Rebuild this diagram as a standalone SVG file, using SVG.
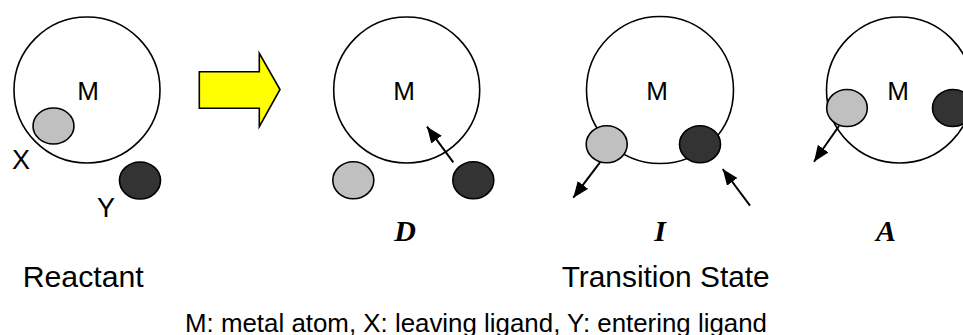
<svg xmlns="http://www.w3.org/2000/svg" width="963" height="335" viewBox="0 0 963 335">
  <style>
    .metal { fill: #ffffff; stroke: #000000; stroke-width: 1.6; }
    .leaving { fill: #c0c0c0; stroke: #000000; stroke-width: 1.6; }
    .entering { fill: #333333; stroke: #000000; stroke-width: 1.6; }
    .sans { font-family: "Liberation Sans", Arial, sans-serif; fill: #000000; }
    .mech { font-family: "Liberation Serif", "Times New Roman", serif; font-style: italic; font-weight: bold; font-size: 30px; fill: #000000; }
    .move { stroke: #000000; stroke-width: 2; fill: none; marker-end: url(#head); }
  </style>
  <defs>
    <marker id="head" markerUnits="userSpaceOnUse" markerWidth="16" markerHeight="13" refX="16" refY="6.5" orient="auto">
      <path d="M0,0 L16,6.5 L0,13 Z" fill="#000000"/>
    </marker>
  </defs>
  <rect width="963" height="335" fill="#ffffff"/>

  <!-- Reactant -->
  <g id="reactant">
    <circle class="metal" cx="87" cy="90" r="73"/>
    <text class="sans" x="88" y="99.5" font-size="26" text-anchor="middle">M</text>
    <ellipse class="leaving" cx="53.5" cy="126" rx="20.5" ry="18"/>
    <ellipse class="entering" cx="140" cy="180.5" rx="20.5" ry="18.5"/>
    <text class="sans" x="21" y="168.5" font-size="27" text-anchor="middle">X</text>
    <text class="sans" x="106" y="217" font-size="27" text-anchor="middle">Y</text>
  </g>

  <!-- Reaction arrow -->
  <g id="reaction-arrow">
    <polygon points="199.3,71.7 259.3,71.7 259.3,53.3 280,89.5 259.3,126.7 259.3,108.3 199.3,108.3" fill="#ffff00" stroke="#000000" stroke-width="1.6"/>
  </g>

  <!-- Dissociative -->
  <g id="dissociative">
    <circle class="metal" cx="406.7" cy="90" r="73"/>
    <text class="sans" x="404" y="99.5" font-size="26" text-anchor="middle">M</text>
    <ellipse class="leaving" cx="353.3" cy="180.3" rx="20.5" ry="18.5"/>
    <ellipse class="entering" cx="473.3" cy="180.3" rx="20.5" ry="18.5"/>
    <text class="mech" x="405" y="241" text-anchor="middle">D</text>
  </g>

  <!-- Interchange -->
  <g id="interchange">
    <circle class="metal" cx="660" cy="90" r="73.5"/>
    <text class="sans" x="657" y="99.5" font-size="26" text-anchor="middle">M</text>
    <ellipse class="leaving" cx="606.7" cy="144.2" rx="20.5" ry="18.5"/>
    <ellipse class="entering" cx="700" cy="144.2" rx="20.5" ry="18.5"/>
    <text class="mech" x="660" y="241" text-anchor="middle">I</text>
  </g>

  <!-- Associative -->
  <g id="associative">
    <circle class="metal" cx="899.5" cy="90" r="73"/>
    <text class="sans" x="898" y="99.5" font-size="26" text-anchor="middle">M</text>
    <ellipse class="leaving" cx="847" cy="108" rx="20.3" ry="18.5"/>
    <ellipse class="entering" cx="953" cy="108" rx="20.5" ry="18.5"/>
    <text class="mech" x="886" y="241" text-anchor="middle">A</text>
  </g>

  <!-- Ligand movements -->
  <g id="connectors">
    <line class="move" x1="453.3" y1="162.3" x2="427" y2="126.7"/>
    <line class="move" x1="600" y1="162.3" x2="573.3" y2="197.7"/>
    <line class="move" x1="750" y1="205.7" x2="722.7" y2="169"/>
    <line class="move" x1="839" y1="126" x2="814" y2="161.7"/>
  </g>

  <!-- Captions -->
  <g id="captions">
    <text class="sans" x="22.7" y="286.7" font-size="29" textLength="121" lengthAdjust="spacingAndGlyphs">Reactant</text>
    <text class="sans" x="561.7" y="286.7" font-size="29" textLength="208" lengthAdjust="spacingAndGlyphs">Transition State</text>
    <text class="sans" x="185" y="331.5" font-size="25" textLength="582" lengthAdjust="spacingAndGlyphs">M: metal atom, X: leaving ligand, Y: entering ligand</text>
  </g>
</svg>
